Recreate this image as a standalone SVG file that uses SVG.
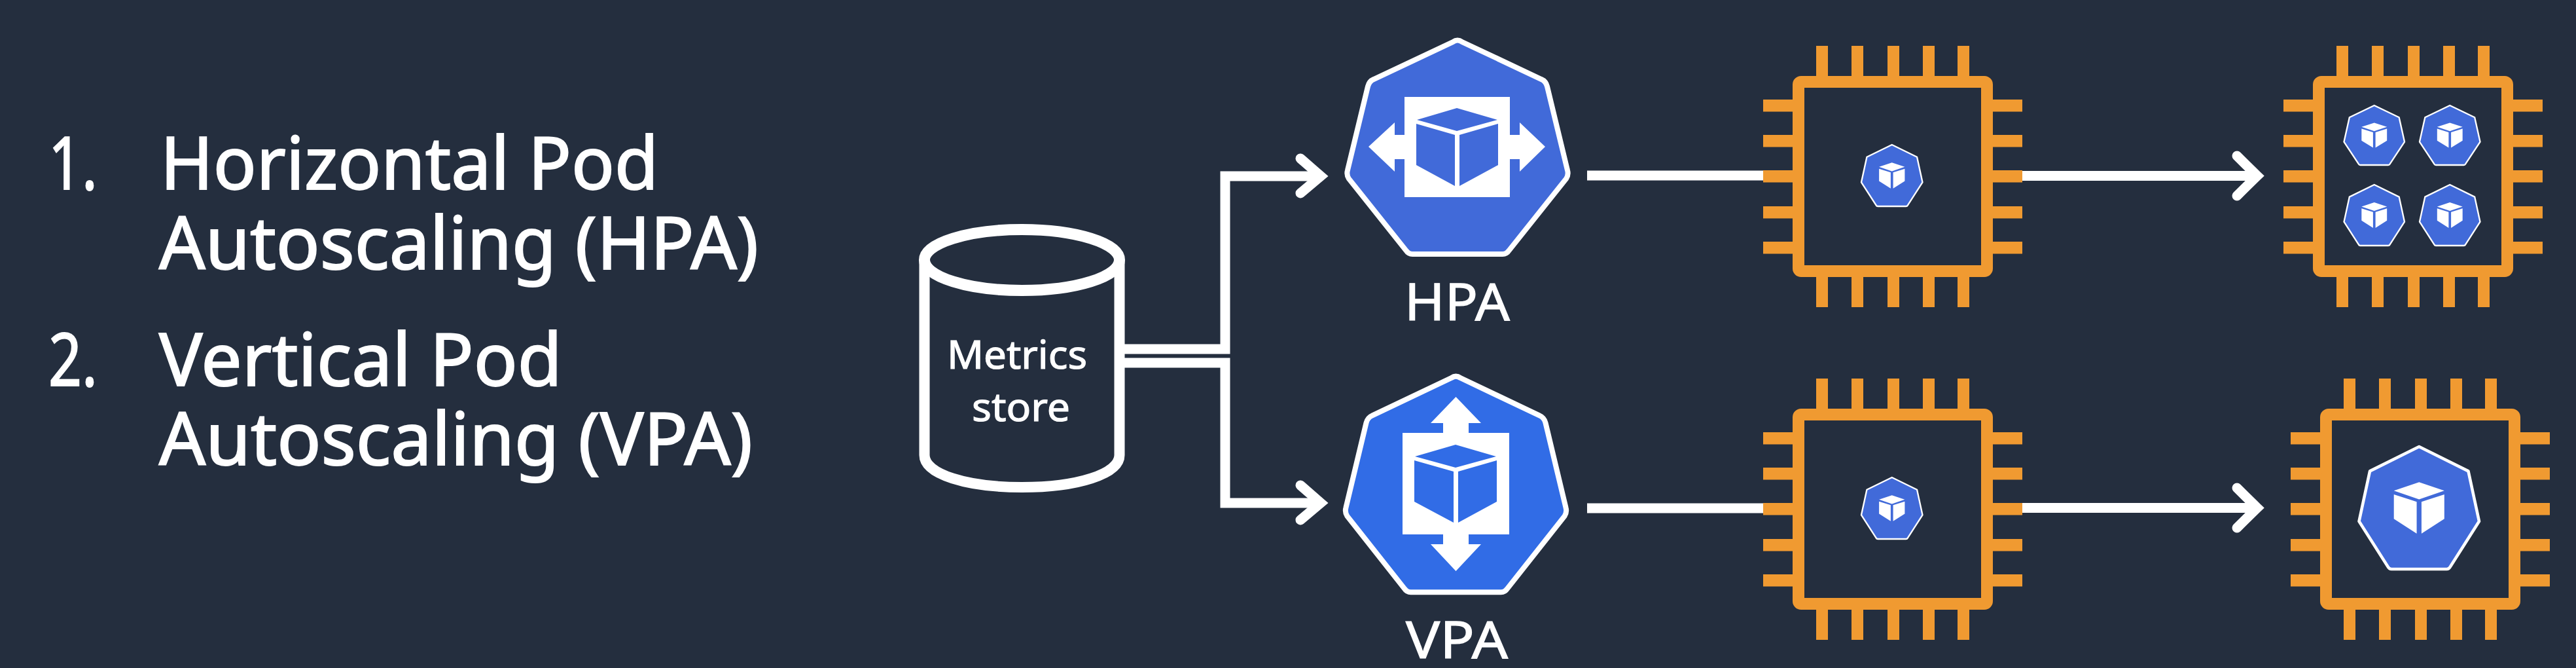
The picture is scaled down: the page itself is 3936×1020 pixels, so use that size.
<svg xmlns="http://www.w3.org/2000/svg" width="3936" height="1020" viewBox="0 0 3936 1020">
<style>
.t{font-family:"Noto Sans","Open Sans","Liberation Sans",sans-serif;fill:#fff;stroke:#fff;}
.big{font-size:112px;stroke-width:2;}
.lab{font-size:78px;stroke-width:1.2;}
.st{font-size:61px;stroke-width:1.2;}
.c{fill:none;stroke:#fff;stroke-width:15;stroke-linejoin:miter;}
.h{fill:none;stroke:#fff;stroke-width:15;stroke-linecap:round;stroke-linejoin:miter;}
.pin{fill:#f09a31;}
</style>
<defs>
<g id="chip">
<rect x="2748" y="125" width="288" height="289" rx="4" fill="none" stroke="#f09a31" stroke-width="18"/>
<g class="pin">
<rect x="2775" y="70" width="18" height="50"/><rect x="2829" y="70" width="18" height="50"/><rect x="2884" y="70" width="18" height="50"/><rect x="2938" y="70" width="18" height="50"/><rect x="2991" y="70" width="18" height="50"/>
<rect x="2775" y="420" width="18" height="49"/><rect x="2829" y="420" width="18" height="49"/><rect x="2884" y="420" width="18" height="49"/><rect x="2938" y="420" width="18" height="49"/><rect x="2991" y="420" width="18" height="49"/>
<rect x="2694" y="152" width="50" height="18.5"/><rect x="2694" y="206" width="50" height="18.5"/><rect x="2694" y="260" width="50" height="18.5"/><rect x="2694" y="315" width="50" height="18.5"/><rect x="2694" y="369" width="50" height="18.5"/>
<rect x="3040" y="152" width="50" height="18.5"/><rect x="3040" y="206" width="50" height="18.5"/><rect x="3040" y="260" width="50" height="18.5"/><rect x="3040" y="315" width="50" height="18.5"/><rect x="3040" y="369" width="50" height="18.5"/>
</g>
</g>
<g id="pod">
<path d="M50 0 L91 20 L100 61 L76 98 Q75 100 73 100 L27 100 Q25 100 24 98 L0 61 L9 20 Z" fill="#416ad9" stroke="#fff" stroke-width="2.5" stroke-linejoin="round"/>
<path d="M50 29 L71 36 L50 43 L29 36 Z M29 39 L48 45 L48 71 L29 59 Z M52 45 L71 39 L71 59 L52 71 Z" fill="#fff"/>
</g>
<path id="hept" d="M170 9 Q177 4 184 9 L305 66 Q312 69 314 77 L345 205 Q347 212 343 218 L256 327 Q252 333 246 333 L108 333 Q102 333 98 327 L11 218 Q7 212 9 205 L40 77 Q42 69 49 66 Z" stroke="#fff" stroke-width="8"/>
</defs>
<rect x="0" y="0" width="3936" height="1020" fill="#242e3e"/>

<g id="legend">
<text class="t big" x="74" y="289" textLength="75" lengthAdjust="spacingAndGlyphs">1.</text>
<text class="t big" x="245" y="289" textLength="761" lengthAdjust="spacingAndGlyphs">Horizontal Pod</text>
<text class="t big" x="243" y="411" textLength="916" lengthAdjust="spacingAndGlyphs">Autoscaling (HPA)</text>
<text class="t big" x="74" y="589" textLength="75" lengthAdjust="spacingAndGlyphs">2.</text>
<text class="t big" x="243" y="589" textLength="616" lengthAdjust="spacingAndGlyphs">Vertical Pod</text>
<text class="t big" x="243" y="710" textLength="907" lengthAdjust="spacingAndGlyphs">Autoscaling (VPA)</text>
</g>

<g id="connectors">
<path class="c" d="M1716 533H1872V269H2016"/>
<path class="h" d="M1987 242L2018 269L1987 295"/>
<path class="c" d="M1716 554H1872V768H2016"/>
<path class="h" d="M1987 741L2018 768L1987 794"/>
<path class="c" d="M2425 268H2694"/>
<path class="c" d="M2425 776H2694"/>
<path class="c" d="M3090 268.500H3450"/>
<path class="h" d="M3418 238Q3430 250 3449 268.500Q3430 287 3418 299"/>
<path class="c" d="M3090 775.500H3450"/>
<path class="h" d="M3418 745Q3430 757 3449 775.500Q3430 794 3418 806"/>
</g>

<g id="metrics-store">
<path d="M1412.500 397V695C1412.500 724 1477 744 1561.500 744S1710.500 724 1710.500 695V397" fill="none" stroke="#fff" stroke-width="16"/>
<ellipse cx="1561.500" cy="397" rx="149" ry="46.500" fill="none" stroke="#fff" stroke-width="17"/>
<text class="t st" x="1447" y="563" textLength="214" lengthAdjust="spacingAndGlyphs">Metrics</text>
<text class="t st" x="1485" y="643" textLength="150" lengthAdjust="spacingAndGlyphs">store</text>
</g>

<g id="hpa">
<use href="#hept" x="2050" y="55" fill="#416ad9"/>
<path d="M2146 148H2307V206H2322V187L2361 224L2322 262V243H2307V301H2146V243H2131V262L2091 224L2131 187V206H2146Z" fill="#fff"/>
<path d="M2226 165L2288 183L2226 200L2165 183ZM2164 189L2223 206V284L2164 252ZM2230 206L2289 189V252L2230 284Z" fill="#416ad9"/>
<text class="t lab" x="2146" y="489" textLength="161" lengthAdjust="spacingAndGlyphs">HPA</text>
</g>

<g id="vpa">
<use href="#hept" transform="translate(2047.500 568) scale(1 1.01)" fill="#316ce6"/>
<path d="M2143 661H2205V646H2186L2224.500 606L2263 646H2244V661H2306V816H2244V831H2263L2224.500 872L2186 831H2205V816H2143Z" fill="#fff"/>
<path d="M2224 679L2286 697L2224 714L2162 697ZM2161 703L2221 720V798L2161 766ZM2228 720L2287 703V766L2228 798Z" fill="#316ce6"/>
<text class="t lab" x="2148" y="1005" textLength="156" lengthAdjust="spacingAndGlyphs">VPA</text>
</g>

<g id="chip-hpa-before">
<use href="#chip"/>
<use href="#pod" transform="translate(2844 221) scale(.935 .94)"/>
</g>
<g id="chip-hpa-after">
<use href="#chip" transform="translate(795 0)"/>
<use href="#pod" transform="translate(3581.500 161) scale(.925 .91)"/>
<use href="#pod" transform="translate(3697 161) scale(.925 .91)"/>
<use href="#pod" transform="translate(3581.500 282) scale(.925 .93)"/>
<use href="#pod" transform="translate(3697 282) scale(.925 .93)"/>
</g>
<g id="chip-vpa-before">
<use href="#chip" transform="translate(0 508)"/>
<use href="#pod" transform="translate(2844 729) scale(.935 .94)"/>
</g>
<g id="chip-vpa-after">
<use href="#chip" transform="translate(806 508)"/>
<use href="#pod" transform="translate(3604.500 682) scale(1.835 1.87)"/>
</g>
</svg>
